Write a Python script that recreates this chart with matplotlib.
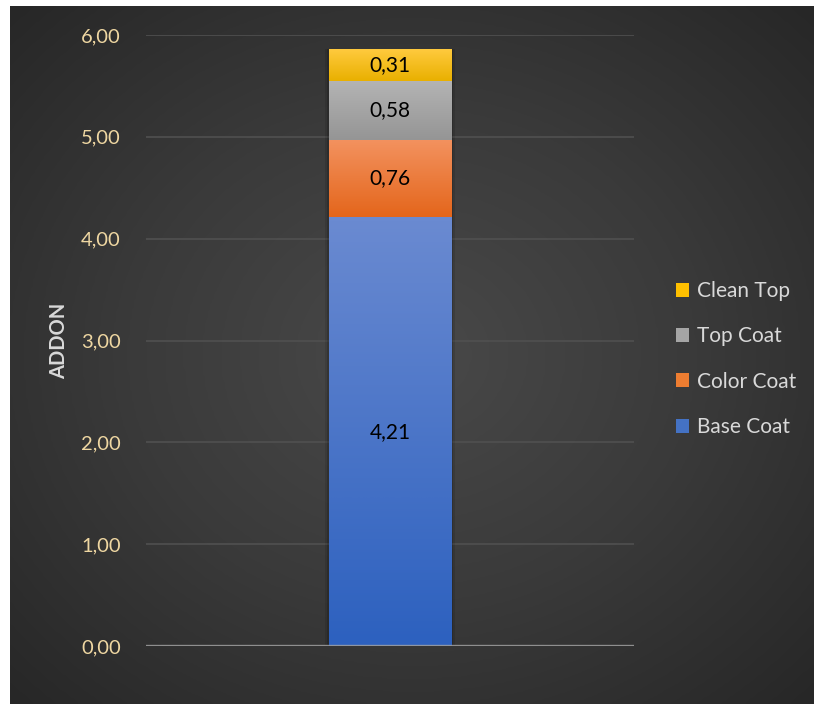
import matplotlib
matplotlib.use("Agg")
import matplotlib.pyplot as plt
import numpy as np
from matplotlib.patches import Patch, Rectangle
from matplotlib.colors import LinearSegmentedColormap

plt.rcParams["font.family"] = ["Lato", "DejaVu Sans"]

# stacked segments, bottom to top
layers = ["Base Coat", "Color Coat", "Top Coat", "Clean Top"]
values = [4.21, 0.76, 0.58, 0.31]
y_ticks = [0, 1, 2, 3, 4, 5, 6]

# (top, bottom) gradient colours per layer, plus a flat legend colour
grad = {
    "Base Coat": ("#6a8ad1", "#2d61bf"),
    "Color Coat": ("#f3925f", "#e4661c"),
    "Top Coat": ("#b4b4b4", "#959595"),
    "Clean Top": ("#ffca3e", "#e9b000"),
}
flat = {
    "Base Coat": "#4472c4",
    "Color Coat": "#ed7d31",
    "Top Coat": "#a5a5a5",
    "Clean Top": "#ffc000",
}

W, H = 814, 704
fig = plt.figure(figsize=(W / 100, H / 100), dpi=100)
fig.patch.set_facecolor("white")

# radial dark background panel
bg = fig.add_axes([10 / W, 0, (W - 10) / W, (H - 6) / H])
bg.set_axis_off()
yy, xx = np.mgrid[0:1:300j, 0:1:350j]
r = np.sqrt(((xx - 0.5) / 0.75) ** 2 + ((yy - 0.5) / 0.75) ** 2)
r = np.clip(r, 0, 1)
bg_cmap = LinearSegmentedColormap.from_list("bg", ["#494949", "#3a3a3a", "#272727"])
bg.imshow(r, cmap=bg_cmap, aspect="auto", extent=[0, 1, 0, 1], interpolation="bicubic")
bg.set_xlim(0, 1)
bg.set_ylim(0, 1)

ax = fig.add_axes([146 / W, 58 / H, 488 / W, 611 / H])
ax.set_facecolor("none")
ax.set_xlim(-1, 1)
ax.set_ylim(0, 6)
for s in ax.spines.values():
    s.set_visible(False)

for t in y_ticks[1:]:
    ax.axhline(t, color="#505050", linewidth=1.2, zorder=0)

bar_w = 0.504
x0 = -bar_w / 2

# soft shadow behind the stack
total = sum(values)
for pad, a in [(0.014, 0.10), (0.008, 0.14)]:
    ax.add_patch(Rectangle((x0 - pad, -0.02), bar_w + 2 * pad, total + 0.02,
                           facecolor="black", edgecolor="none", alpha=a, zorder=1))

bottom = 0
for name, v in zip(layers, values):
    bars = ax.bar(0, v, width=bar_w, bottom=bottom, color=flat[name], zorder=2, linewidth=0)
    top_c, bot_c = grad[name]
    cm = LinearSegmentedColormap.from_list(name, [bot_c, top_c])
    img = ax.imshow(np.linspace(0, 1, 64).reshape(-1, 1), cmap=cm, origin="lower",
                    extent=[x0, x0 + bar_w, bottom, bottom + v], aspect="auto",
                    interpolation="bicubic", zorder=3)
    img.set_clip_path(bars[0])
    ax.text(0, bottom + v / 2, f"{v:.2f}".replace(".", ","), ha="center", va="center",
            fontsize=15, color="black", zorder=5)
    bottom += v

ax.axhline(0, color="#a0a0a0", linewidth=2.4, alpha=0.85, zorder=4)

ax.set_xticks([])
ax.set_yticks(y_ticks)
ax.set_yticklabels([f"{t:.2f}".replace(".", ",") for t in y_ticks])
ax.tick_params(axis="y", length=0, pad=18, labelsize=14.5, labelcolor="#efd7a2")
ax.set_ylabel("ADDON", fontsize=14.5, fontweight="bold", color="#d9d9d9", labelpad=9)

handles = [Patch(facecolor=flat[n], edgecolor="none", label=n) for n in reversed(layers)]
fig.legend(handles=handles, loc="center left", bbox_to_anchor=(657 / W, 1 - 359 / H),
           frameon=False, fontsize=15, labelcolor="#d9d9d9", handlelength=0.65,
           handleheight=0.65, handletextpad=0.35, labelspacing=1.22)

plt.savefig("out.png", dpi=100, facecolor=fig.get_facecolor())
plt.close()
